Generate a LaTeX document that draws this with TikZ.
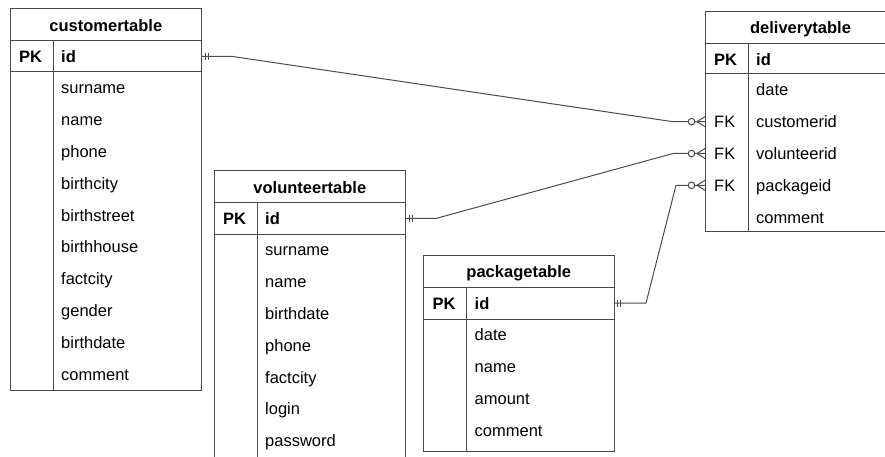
\documentclass[tikz,border=0pt]{standalone}
\usepackage{fontspec}
\setmainfont{Liberation Sans}
\tikzset{
  tbl/.style={draw=black!72, line width=1pt},
  conn/.style={draw=black!70, line width=1pt},
  hdr/.style={anchor=base, inner sep=0pt, font=\fontsize{16.5}{19}\selectfont\bfseries},
  keyl/.style={anchor=base west, inner sep=0pt, font=\fontsize{16.5}{19}\selectfont\bfseries},
  fld/.style={anchor=base west, inner sep=0pt, font=\fontsize{16.5}{19}\selectfont},
}
\newcommand{\ertable}[9]{%
  \draw[tbl] (#2,#3) rectangle (#4,#7);
  \draw[tbl] (#2,#5) -- (#4,#5);
  \draw[tbl] (#2,#6) -- (#4,#6);
  \draw[tbl] ({#2+43},#5) -- ({#2+43},#7);
  \node[hdr] (#1-title) at ({(#2+#4)/2},{(#3+#5)/2+6.5}) {#8};
  \node[keyl] (#1-pkkey) at ({#2+9},{(#5+#6)/2+6.5}) {PK};
  \node[fld] (#1-pkname) at ({#2+51},{(#5+#6)/2+6.5}) {\bfseries id};
  \coordinate (#1-pkE) at (#4,{(#5+#6)/2});
  \coordinate (#1-pkW) at (#2,{(#5+#6)/2});
  \foreach \t [count=\i] in {#9} {
    \node[fld] (#1-f\i) at ({#2+51},{#6+15.9+(\i-1)*31.8+6}) {\t};
    \coordinate (#1-r\i) at (#2,{#6+15.9+(\i-1)*31.8});
  }
}
\begin{document}
\begin{tikzpicture}[x=1pt,y=-1pt]
\useasboundingbox (0,0) rectangle (885,457);
\clip (0,0) rectangle (885,457);
\fill[white] (0,0) rectangle (885,457);

\ertable{cust}{10}{9}{201.7}{41}{72}{390}{customertable}{surname,name,phone,birthcity,birthstreet,birthhouse,factcity,gender,birthdate,comment}
\ertable{vol}{214}{171}{405.7}{202.5}{234}{460}{volunteertable}{surname,name,birthdate,phone,factcity,login,password}
\ertable{pack}{423.5}{255}{614}{287}{319}{451}{packagetable}{date,name,amount,comment}
\ertable{del}{705}{11.5}{896}{43.3}{74}{231.7}{deliverytable}{date,customerid,volunteerid,packageid,comment}

\node[fld] (del-k2) at (714,{74+15.9+31.8+6}) {FK};
\node[fld] (del-k3) at (714,{74+15.9+2*31.8+6}) {FK};
\node[fld] (del-k4) at (714,{74+15.9+3*31.8+6}) {FK};

% connectors
\draw[conn] (cust-pkE) -- ++(31,0) -- ([xshift=-32]del-r2) -- (del-r2);
\draw[conn] (vol-pkE) -- ++(31,0) -- ([xshift=-32]del-r3) -- (del-r3);
\draw[conn] (pack-pkE) -- ++(32,0) -- ([xshift=-29]del-r4) -- (del-r4);

% one-and-only-one marks
\foreach \p in {cust-pkE,vol-pkE,pack-pkE} {
  \draw[conn] ([xshift=3.5,yshift=-3.5]\p) -- ([xshift=3.5,yshift=3.5]\p);
  \draw[conn] ([xshift=6.5,yshift=-3.5]\p) -- ([xshift=6.5,yshift=3.5]\p);
}
% zero-or-many marks
\foreach \p in {del-r2,del-r3,del-r4} {
  \draw[conn] ([xshift=-8]\p) -- ([yshift=5]\p);
  \draw[conn] ([xshift=-8]\p) -- ([yshift=-5]\p);
  \draw[conn, fill=white] ([xshift=-13.5]\p) circle (3.3);
}
\end{tikzpicture}
\end{document}
